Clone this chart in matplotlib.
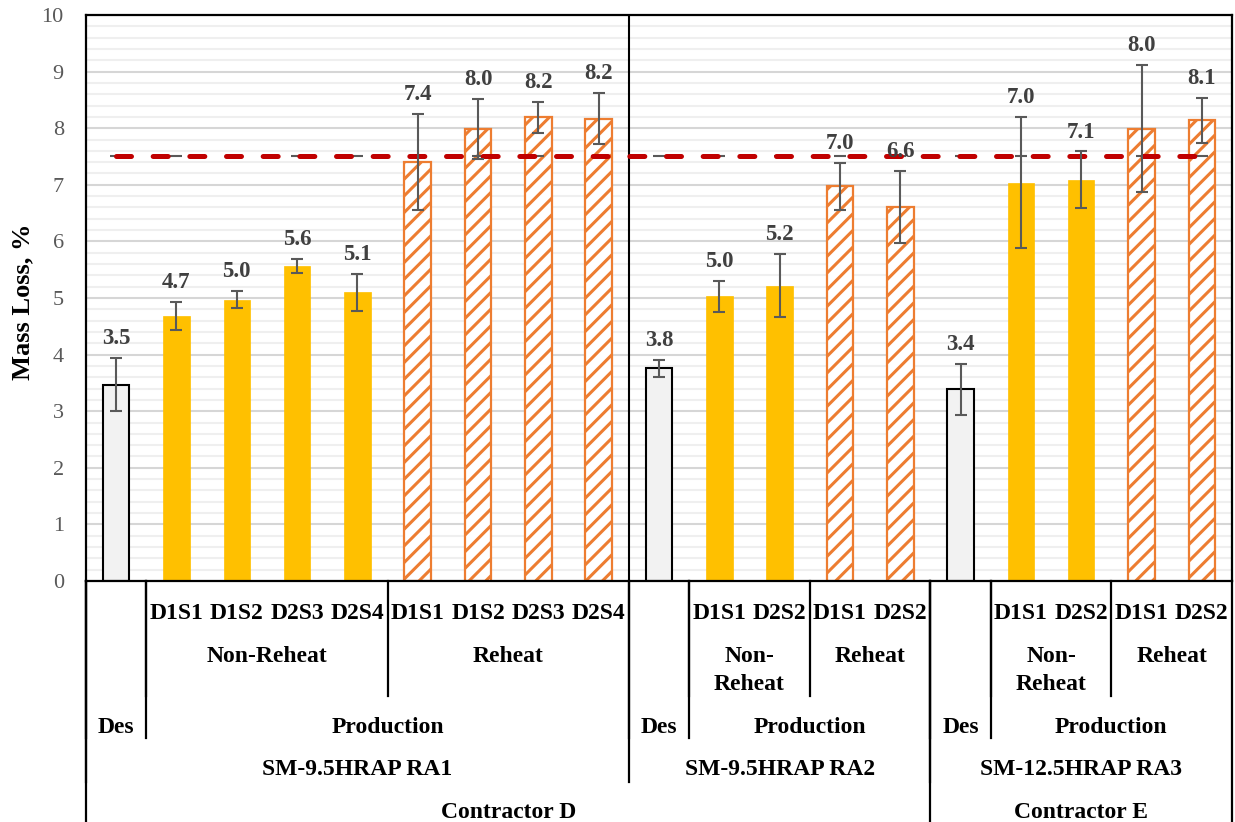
import matplotlib
matplotlib.use("Agg")
import matplotlib.pyplot as plt
import matplotlib.transforms as mtransforms
from matplotlib.lines import Line2D
from matplotlib.ticker import MultipleLocator

plt.rcParams['font.family'] = ['Liberation Serif', 'DejaVu Serif']
plt.rcParams['hatch.linewidth'] = 2.2
plt.rcParams['lines.scale_dashes'] = False

# ---------------- data ----------------
mix_labels = ["", "D1S1", "D1S2", "D2S3", "D2S4", "D1S1", "D1S2", "D2S3", "D2S4",
              "", "D1S1", "D2S2", "D1S1", "D2S2",
              "", "D1S1", "D2S2", "D1S1", "D2S2"]
mix_kind = (["Des"] + ["Non-Reheat"] * 4 + ["Reheat"] * 4
            + ["Des"] + ["Non-Reheat"] * 2 + ["Reheat"] * 2
            + ["Des"] + ["Non-Reheat"] * 2 + ["Reheat"] * 2)
mass_loss = [3.47, 4.68, 4.97, 5.57, 5.10, 7.40, 7.98, 8.19, 8.17,
             3.76, 5.03, 5.22, 6.97, 6.61,
             3.39, 7.04, 7.09, 7.99, 8.14]
mass_loss_sd = [0.47, 0.25, 0.15, 0.12, 0.33, 0.85, 0.53, 0.27, 0.45,
                0.15, 0.27, 0.56, 0.41, 0.63,
                0.45, 1.16, 0.50, 1.12, 0.40]
threshold = 7.5

# header groups: (label, first index, last index)
reheat_groups = [("Non-Reheat", 1, 4), ("Reheat", 5, 8),
                 ("Non-\nReheat", 10, 11), ("Reheat", 12, 13),
                 ("Non-\nReheat", 15, 16), ("Reheat", 17, 18)]
stage_groups = [("Des", 0, 0), ("Production", 1, 8),
                ("Des", 9, 9), ("Production", 10, 13),
                ("Des", 14, 14), ("Production", 15, 18)]
mixture_groups = [("SM-9.5HRAP RA1", 0, 8), ("SM-9.5HRAP RA2", 9, 13),
                  ("SM-12.5HRAP RA3", 14, 18)]
contractor_groups = [("Contractor D", 0, 13), ("Contractor E", 14, 18)]

# ---------------- styles ----------------
W, H = 1235, 822
fig = plt.figure(figsize=(W / 100, H / 100), dpi=100)
ax = fig.add_axes([86 / W, 1 - 581 / H, (1232 - 86) / W, (581 - 15) / H])

styles = {
    "Des": dict(facecolor="#F2F2F2", edgecolor="black", linewidth=1.5),
    "Non-Reheat": dict(facecolor="#FFC000", edgecolor="#FFC000", linewidth=0.5),
    "Reheat": dict(facecolor="white", edgecolor="#ED7D31", linewidth=1.6, hatch="//"),
}

x = list(range(len(mass_loss)))
for xi, kind, v in zip(x, mix_kind, mass_loss):
    ax.bar(xi, v, width=0.44, zorder=2, **styles[kind])

ax.errorbar(x, mass_loss, yerr=mass_loss_sd, fmt="none", ecolor="#595959",
            elinewidth=1.5, capsize=4.3, capthick=1.5, zorder=6)

# threshold series: gray caps at every category plus dashed red line
ax.plot(x, [threshold] * len(x), ls="none", marker="_", ms=8.6, mew=1.5,
        color="#595959", zorder=3)
ax.plot([x[0], x[-1]], [threshold, threshold], color="#C00000", lw=3.6,
        dashes=(10.8, 15.6), dash_capstyle="round", zorder=5)

for xi, v, e in zip(x, mass_loss, mass_loss_sd):
    ax.annotate(f"{v:.1f}", (xi, v + e), xytext=(0, 10), textcoords="offset points",
                ha="center", va="baseline", fontsize=16.5, fontweight="bold",
                color="#404040", zorder=7)

ax.set_xlim(-0.5, len(x) - 0.5)
ax.set_ylim(0, 10)
ax.set_yticks(range(0, 11))
ax.yaxis.set_minor_locator(MultipleLocator(0.2))
ax.set_xticks([])
ax.grid(which="minor", axis="y", color="#EFEFEF", lw=1.5, zorder=0)
ax.grid(which="major", axis="y", color="#D6D6D6", lw=1.5, zorder=0)
ax.set_axisbelow(True)
ax.tick_params(which="both", length=0)
ax.tick_params(axis="y", labelsize=16, labelcolor="#595959", pad=16)
for s in ax.spines.values():
    s.set_color("black")
    s.set_linewidth(1.6)

# separator between the RA1 and RA2 panels
ax.axvline(mixture_groups[1][1] - 0.5, color="black", lw=1.5, zorder=4)

fig.text(23 / W, 1 - 302 / H, "Mass Loss, %", rotation=90, ha="center",
         va="center", fontsize=19, fontweight="bold")

# ---------------- category header table below the axis ----------------
tr = mtransforms.blended_transform_factory(ax.transData, fig.transFigure)


def fy(py):
    return 1 - py / H


def vline(xd, py_end):
    fig.add_artist(Line2D([xd, xd], [fy(581), fy(py_end)], transform=tr,
                          color="black", lw=1.6, clip_on=False))


def label(xd, py, text):
    fig.text(xd, fy(py), text, transform=tr, ha="center", va="baseline",
             fontsize=17, fontweight="bold", color="black")


for xi, lab in zip(x, mix_labels):
    if lab:
        label(xi, 619, lab)

for lab, a, b in reheat_groups:
    xc = (a + b) / 2
    lines = lab.split("\n")
    for k, line in enumerate(lines):
        label(xc, 662 + 28 * k, line)
    vline(a - 0.5, 696)

for lab, a, b in stage_groups:
    label((a + b) / 2, 733, lab)
    vline(a - 0.5, 738)

for lab, a, b in mixture_groups:
    label((a + b) / 2, 775, lab)
    vline(a - 0.5, 782)

for lab, a, b in contractor_groups:
    label((a + b) / 2, 818, lab)
    vline(a - 0.5, H)
vline(contractor_groups[-1][2] + 0.5, H)

fig.savefig("out.png", dpi=100)
